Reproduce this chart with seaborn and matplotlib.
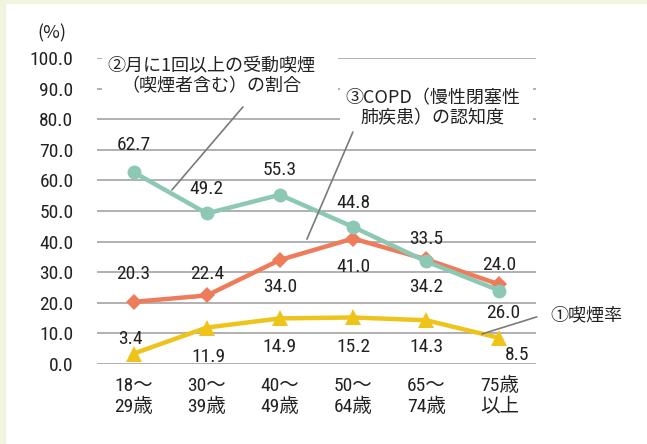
import numpy as np
import pandas as pd
import matplotlib
matplotlib.use("Agg")
import matplotlib.pyplot as plt
from matplotlib import font_manager
from matplotlib.patches import Rectangle
import seaborn as sns

categories = ["18～\n29歳", "30～\n39歳", "40～\n49歳", "50～\n64歳", "65～\n74歳", "75歳\n以上"]
smoking = [3.4, 11.9, 14.9, 15.2, 14.3, 8.5]
passive = [62.7, 49.2, 55.3, 44.8, 33.5, 24.0]
copd = [20.3, 22.4, 34.0, 41.0, 34.2, 26.0]
yticks = [0, 10, 20, 30, 40, 50, 60, 70, 80, 90, 100]

sns.set_theme(style="white")
names = {f.name for f in font_manager.fontManager.ttflist}
NUM = "DejaVu Sans"
for cand in ["Roboto Condensed", "Archivo Narrow", "Asap Condensed", "Barlow Semi Condensed"]:
    if cand in names:
        NUM = cand
        break
plt.rcParams["font.family"] = [NUM, "Noto Sans CJK JP", "DejaVu Sans"]
JP = ["Noto Sans CJK JP", "DejaVu Sans"]

W, H = 647, 444
fig = plt.figure(figsize=(W / 100, H / 100), dpi=100, facecolor="white")
cream = "#F1F5E0"
fig.patches.append(Rectangle((0, 0), 5 / W, 1, transform=fig.transFigure, color=cream, zorder=0))
fig.patches.append(Rectangle((0, 1 - 3 / H), 1, 3 / H, transform=fig.transFigure, color=cream, zorder=0))

ax = fig.add_axes([97 / W, 80 / H, (536 - 97) / W, (364 - 58) / H])
ax.set_facecolor("none")

x = np.arange(len(categories))
df = pd.DataFrame({"x": x, "smoking": smoking, "passive": passive, "copd": copd})

c_y, c_o, c_t = "#EEC31A", "#EE7B5A", "#8CC8B3"
sns.lineplot(data=df, x="x", y="smoking", ax=ax, color=c_y, lw=3.2, marker="^", markersize=11,
             markeredgewidth=0, zorder=3)
sns.lineplot(data=df, x="x", y="copd", ax=ax, color=c_o, lw=3.2, marker="D", markersize=8,
             markeredgewidth=0, zorder=4)
sns.lineplot(data=df, x="x", y="passive", ax=ax, color=c_t, lw=3.2, marker="o", markersize=10,
             markeredgewidth=0, zorder=5)

FS = 14
ax.set_xlim(-0.5, len(categories) - 0.5)
ax.set_ylim(0, 100)
ax.set_yticks(yticks)
ax.set_yticklabels([f"{v:.1f}" for v in yticks], fontsize=FS, color="#222222")
ax.set_xticks(x)
ax.set_xticklabels(categories, fontsize=FS, color="#222222", linespacing=1.2)
ax.tick_params(axis="y", length=0, pad=17)
ax.tick_params(axis="x", length=0, pad=9)
for s in ax.spines.values():
    s.set_visible(False)
ax.grid(False)
for v in yticks:
    ax.axhline(v, color="#A3A3A3", lw=1.2, zorder=1)
ax.set_xlabel("")
ax.set_ylabel("")
ax.text(-0.07, 1.08, "(%)", transform=ax.transAxes, ha="right", va="center", fontsize=13,
        family=JP, color="#222222")

def px(dx, dy):
    return (dx * 0.72, dy * 0.72)

t_off = [(0, 27), (0, 24), (0, 25), (0, 24), (0, 22), (0, 26)]
o_off = [(0, 28), (0, 21), (0, -27), (0, -28), (0, -28), (4, -29)]
y_off = [(-3, 15), (2, -29), (0, -29), (0, -30), (0, -27), (18, -17)]
for vals, offs in ((passive, t_off), (copd, o_off), (smoking, y_off)):
    for i, v in enumerate(vals):
        ax.annotate(f"{v:.1f}", (i, v), xytext=px(*offs[i]), textcoords="offset points",
                    ha="center", va="center", fontsize=FS, color="#222222", zorder=6)

# white label backgrounds (hide gridlines behind the callout texts)
ax.add_patch(Rectangle((-0.432, 86.3), 2.792 + 0.432, 20, facecolor="white", edgecolor="none",
                       zorder=2, clip_on=False))
ax.add_patch(Rectangle((2.82, 74.8), 5.456 - 2.82, 94.4 - 74.8, facecolor="white",
                       edgecolor="none", zorder=2, clip_on=False))

lbl = dict(fontsize=13, family=JP, color="#222222", ha="center", va="center",
           linespacing=1.15, zorder=6)
ax.text(1.07, 94.2, "②月に1回以上の受動喫煙\n（喫煙者含む）の割合", **lbl)
ax.text(4.09, 83.7, "③COPD（慢性閉塞性\n肺疾患）の認知度", **lbl)
ax.text(5.69, 16.0, "①喫煙率", fontsize=13, family=JP, color="#222222", ha="left", va="center",
        clip_on=False, zorder=6)

lead = dict(arrowstyle="-", color="#7A7A7A", lw=1.2, shrinkA=0, shrinkB=0)
for (x0, y0), (x1, y1) in [((1.494, 84.0), (0.525, 56.9)),
                           ((2.997, 75.8), (2.369, 40.8)),
                           ((5.511, 15.4), (4.760, 9.8))]:
    ax.annotate("", xy=(x1, y1), xytext=(x0, y0), arrowprops=lead, annotation_clip=False, zorder=6)

fig.savefig("out.png", dpi=100, facecolor="white")
